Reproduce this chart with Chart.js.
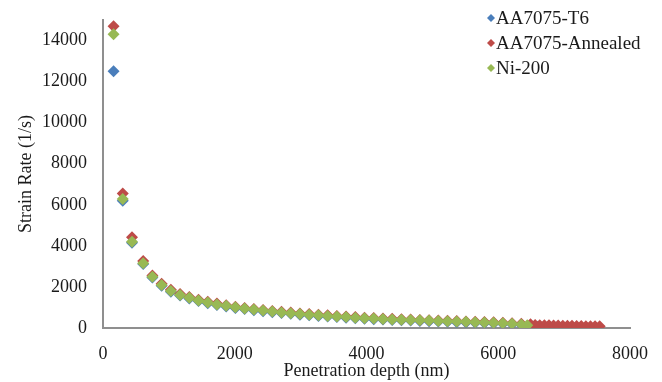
<!DOCTYPE html>
<html>
<head>
<meta charset="utf-8">
<script src="https://cdn.jsdelivr.net/npm/chart.js@4.4.1/dist/chart.umd.min.js"></script>
<style>
  html, body { margin: 0; padding: 0; background: #fff; }
  #wrap { width: 662px; height: 382px; }
</style>
</head>
<body>
<div id="wrap"><canvas id="chart"></canvas></div>
<script>
// valores (profundidade em nm, taxa em 1/s)
const seriesNames = ['AA7075-T6', 'AA7075-Annealed', 'Ni-200'];
const seriesColors = ['#4a7ebb', '#be4b48', '#98b954'];

const depthT6 = [160, 300, 440, 610, 750, 890, 1030, 1170, 1310, 1450, 1590, 1730, 1870, 2010, 2150, 2290, 2430, 2570, 2710, 2850, 2990, 3130, 3270, 3410, 3550, 3690, 3830, 3970, 4110, 4250, 4390, 4530, 4670, 4810, 4950, 5090, 5230, 5370, 5510, 5650, 5790, 5930, 6070, 6210, 6350, 6490, 6590];
const rateT6 = [12500, 6200, 4150, 3120, 2460, 2060, 1770, 1580, 1440, 1310, 1210, 1120, 1050, 980, 920, 870, 820, 770, 730, 690, 650, 620, 590, 560, 530, 500, 470, 450, 430, 410, 390, 375, 360, 345, 330, 315, 300, 285, 270, 255, 240, 225, 205, 180, 150, 110, 60];

const depthAnnealed = [160, 300, 440, 610, 750, 890, 1030, 1170, 1310, 1450, 1590, 1730, 1870, 2010, 2150, 2290, 2430, 2570, 2710, 2850, 2990, 3130, 3270, 3410, 3550, 3690, 3830, 3970, 4110, 4250, 4390, 4530, 4670, 4810, 4950, 5090, 5230, 5370, 5510, 5650, 5790, 5930, 6070, 6210, 6350, 6490, 6560, 6630, 6700, 6770, 6840, 6910, 6980, 7050, 7120, 7190, 7260, 7330, 7400, 7470, 7540];
const rateAnnealed = [14700, 6550, 4420, 3260, 2560, 2150, 1860, 1660, 1510, 1380, 1280, 1190, 1110, 1040, 980, 930, 880, 830, 790, 750, 710, 680, 650, 620, 590, 560, 530, 505, 485, 465, 445, 425, 410, 395, 380, 365, 350, 335, 320, 305, 290, 275, 255, 235, 210, 180, 150, 140, 135, 130, 125, 120, 115, 110, 105, 100, 95, 90, 90, 85, 80];

const depthNi = [160, 300, 440, 610, 750, 890, 1030, 1170, 1310, 1450, 1590, 1730, 1870, 2010, 2150, 2290, 2430, 2570, 2710, 2850, 2990, 3130, 3270, 3410, 3550, 3690, 3830, 3970, 4110, 4250, 4390, 4530, 4670, 4810, 4950, 5090, 5230, 5370, 5510, 5650, 5790, 5930, 6070, 6210, 6350, 6440];
const rateNi = [14300, 6280, 4200, 3150, 2500, 2090, 1800, 1610, 1470, 1340, 1240, 1150, 1080, 1010, 950, 900, 850, 800, 760, 720, 680, 650, 620, 590, 560, 530, 500, 480, 460, 440, 420, 405, 390, 375, 360, 345, 330, 315, 300, 285, 270, 250, 230, 205, 175, 130];

const xTicks = [0, 2000, 4000, 6000, 8000];
const yTicks = [0, 2000, 4000, 6000, 8000, 10000, 12000, 14000];

const serif = "'Liberation Serif', 'DejaVu Serif', serif";
const textColor = '#1a1a1a';

function toPoints(xs, ys) {
    return xs.map((x, i) => ({ x: x, y: ys[i] }));
}

// legenda desenhada dentro da área do gráfico (canto superior direito)
const innerLegend = {
    id: 'innerLegend',
    afterDraw(chart) {
        const ctx = chart.ctx;
        ctx.save();
        ctx.font = '19px ' + serif;
        ctx.textBaseline = 'middle';
        chart.data.datasets.forEach((ds, i) => {
            const y = 18 + i * 25;
            const x = 491;
            const r = 4;
            ctx.fillStyle = ds.backgroundColor;
            ctx.beginPath();
            ctx.moveTo(x, y - r);
            ctx.lineTo(x + r, y);
            ctx.lineTo(x, y + r);
            ctx.lineTo(x - r, y);
            ctx.closePath();
            ctx.fill();
            ctx.fillStyle = textColor;
            ctx.fillText(ds.label, x + 5, y + 1);
        });
        ctx.restore();
    }
};

const datasets = [
    { label: seriesNames[0], data: toPoints(depthT6, rateT6), order: 3 },
    { label: seriesNames[1], data: toPoints(depthAnnealed, rateAnnealed), order: 2 },
    { label: seriesNames[2], data: toPoints(depthNi, rateNi), order: 1 }
].map((ds, i) => Object.assign(ds, {
    backgroundColor: seriesColors[i],
    borderColor: seriesColors[i],
    borderWidth: 0,
    pointStyle: 'rectRot',
    pointRadius: 6,
    pointHoverRadius: 6
}));

new Chart(document.getElementById('chart'), {
    type: 'scatter',
    data: { datasets: datasets },
    options: {
        responsive: true,
        maintainAspectRatio: false,
        animation: false,
        events: [],
        layout: { padding: { left: 0, right: 32, top: 20, bottom: 0 } },
        plugins: {
            legend: { display: false },
            tooltip: { enabled: false }
        },
        scales: {
            x: {
                type: 'linear',
                min: 0,
                max: 8000,
                grid: { display: false },
                border: { display: true, color: '#8f8f8f', width: 2 },
                afterBuildTicks: scale => { scale.ticks = xTicks.map(v => ({ value: v })); },
                afterFit: scale => { scale.height = 54; },
                ticks: { padding: 7, color: textColor, font: { family: serif, size: 18 }, callback: v => String(v) },
                title: {
                    display: true,
                    text: 'Penetration depth (nm)',
                    color: textColor,
                    font: { family: serif, size: 18 },
                    padding: { top: 0, bottom: 0 }
                }
            },
            y: {
                type: 'linear',
                min: 0,
                max: 15000,
                grid: { display: false },
                border: { display: true, color: '#8f8f8f', width: 2 },
                afterBuildTicks: scale => { scale.ticks = yTicks.map(v => ({ value: v })); },
                afterFit: scale => { scale.width = 103; },
                ticks: { padding: 8, color: textColor, font: { family: serif, size: 18 }, callback: v => String(v) },
                title: {
                    display: true,
                    text: 'Strain Rate (1/s)',
                    color: textColor,
                    font: { family: serif, size: 18 },
                    padding: { top: 15, bottom: 0 }
                }
            }
        }
    },
    plugins: [innerLegend]
});
</script>
</body>
</html>
